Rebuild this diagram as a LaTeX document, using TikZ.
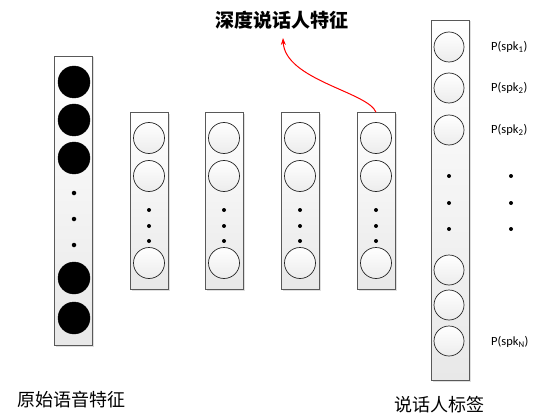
\documentclass[tikz,border=0pt]{standalone}
\usepackage{fontspec}
\setmainfont{Carlito}
\newfontfamily\cjk{Noto Sans CJK SC}
\usetikzlibrary{shadows,arrows.meta}
\begin{document}
\begin{tikzpicture}[x=1pt,y=-1pt,
  colbox/.style={draw=gray!70!black, line width=0.6pt, top color=white, bottom color=gray!18,
    drop shadow={shadow xshift=1.5pt, shadow yshift=-1.5pt, opacity=0.25}, inner sep=0pt},
  unit/.style={circle, draw=gray!30!black, line width=0.7pt, minimum size=31pt, inner sep=0pt,
    top color=white, bottom color=gray!15},
  bunit/.style={circle, draw=black, fill=black, minimum size=32pt, inner sep=0pt},
  dotn/.style={circle, fill=black, minimum size=4.5pt, inner sep=0pt},
  plab/.style={anchor=west, font=\fontsize{12.5}{14}\selectfont, inner sep=0pt},
  cjklab/.style={font=\cjk\fontsize{18}{20}\selectfont, inner sep=0pt}]
\useasboundingbox (0,0) rectangle (537,414);

% input column
\node[colbox, minimum width=38pt, minimum height=289pt] (in) at (73,200.5) {};
\foreach \y [count=\i] in {82,120,158,278,318} \node[bunit] (in\i) at (74,\y) {};
\foreach \y [count=\i] in {193,219,245} \node[dotn] (ind\i) at (74,\y) {};

% hidden columns
\foreach \x [count=\c] in {149,224,300,376} {
  \node[colbox, minimum width=38pt, minimum height=177pt] (h\c) at (\x,201) {};
  \foreach \y [count=\i] in {138,176,263} \node[unit] (h\c u\i) at (\x,\y) {};
  \foreach \y [count=\i] in {210,226,241} \node[dotn, minimum size=4pt] (h\c d\i) at (\x,\y) {};
}

% output column
\node[colbox, minimum width=38pt, minimum height=360pt] (out) at (450,200) {};
\foreach \y [count=\i] in {47,88,130,270,305,341} \node[unit, minimum size=30pt] (o\i) at (449,\y) {};
\foreach \y [count=\i] in {176,203,229} \node[dotn, minimum size=4pt] (od\i) at (449,\y) {};

% output labels
\node[plab] (p1) at (491,47) {P(spk\textsubscript{1})};
\node[plab] (p2) at (491,88) {P(spk\textsubscript{2})};
\node[plab] (p3) at (491,130) {P(spk\textsubscript{2})};
\node[plab] (pn) at (491,342) {P(spk\textsubscript{N})};
\foreach \y [count=\i] in {176,203,229} \node[dotn, minimum size=4pt] (pd\i) at (511,\y) {};

% title and arrow
\node[font=\cjk\bfseries\fontsize{19}{21}\selectfont, inner sep=0pt] (title) at (282,20) {深度说话人特征};
\coordinate (tip) at (283,38);
\draw[red, line width=1pt, -{Stealth[length=7pt,width=5pt]}] (h4.north) .. controls (368,92) and (285,80) .. (tip);

% bottom labels
\node[cjklab] (lin) at (71,400) {原始语音特征};
\node[cjklab] (lout) at (439,405) {说话人标签};
\end{tikzpicture}
\end{document}
